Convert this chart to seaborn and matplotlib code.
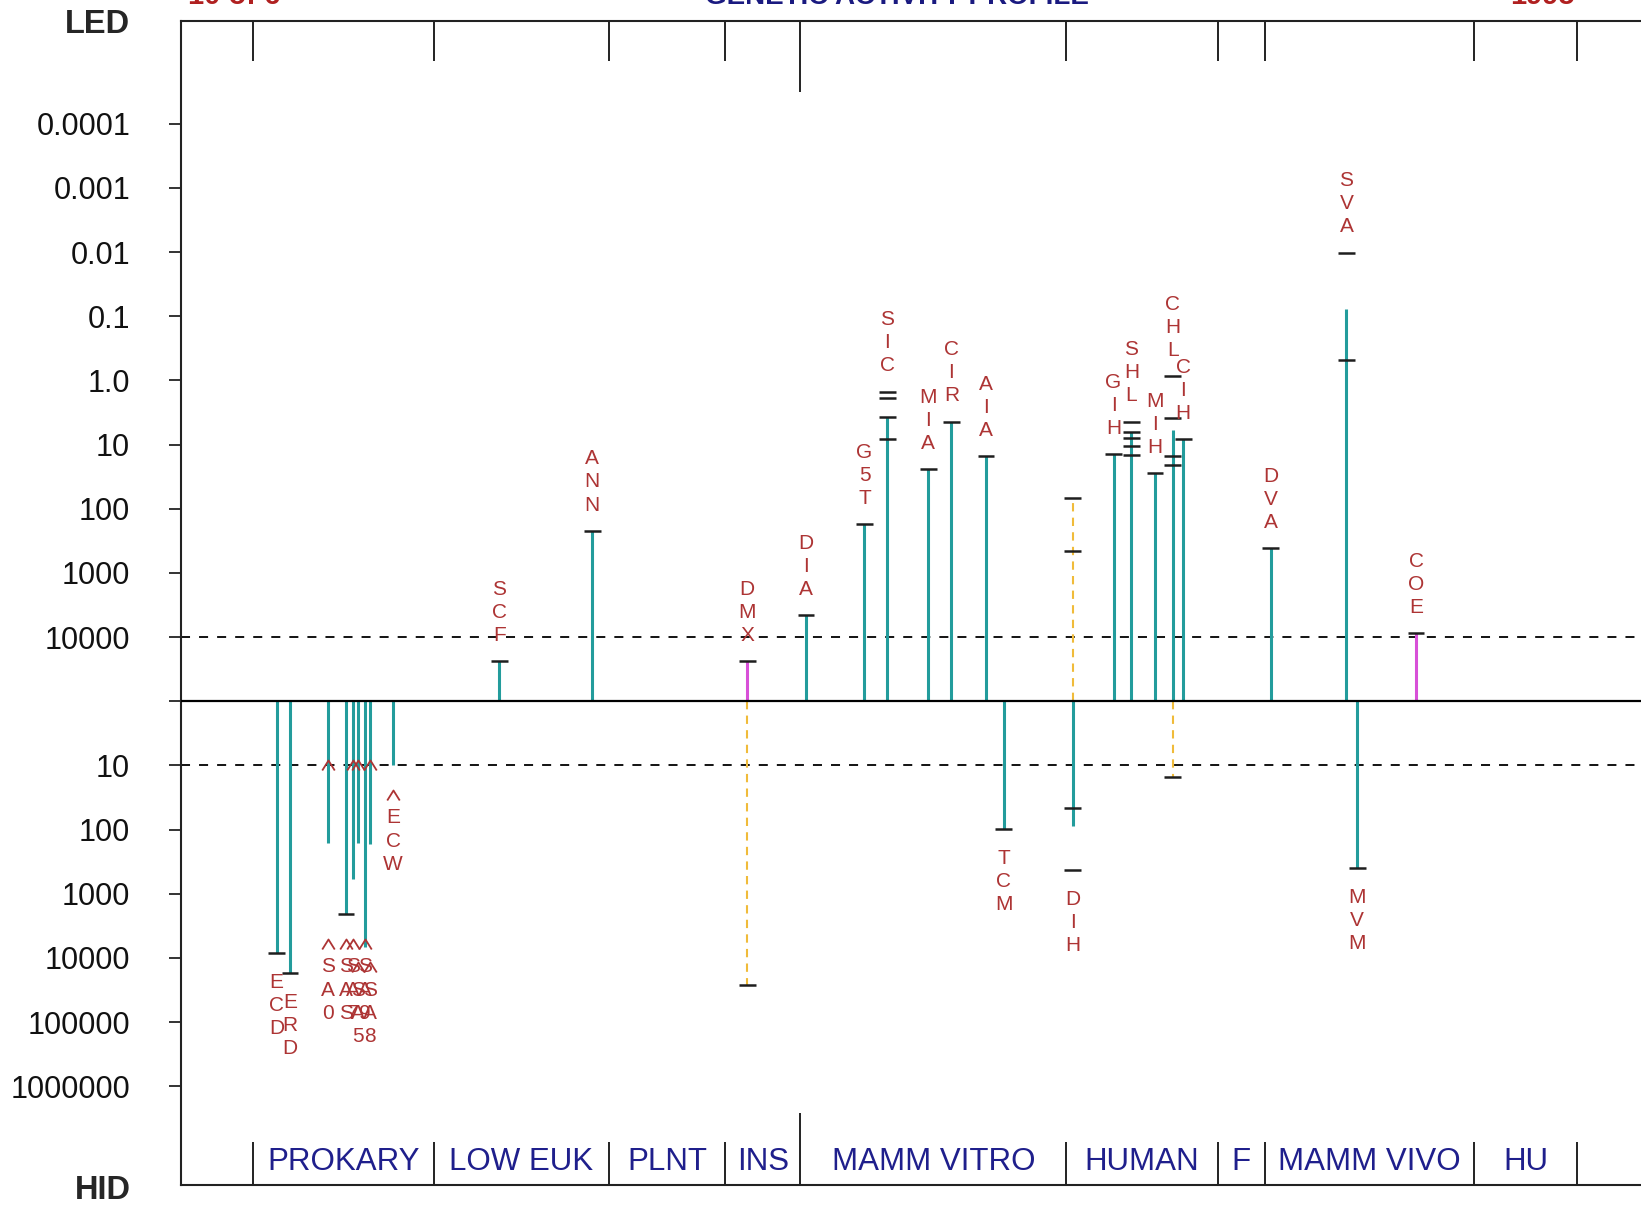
import numpy as np
import pandas as pd
import matplotlib
matplotlib.use("Agg")
import matplotlib.pyplot as plt
from matplotlib.path import Path
import seaborn as sns

sns.set_style("ticks")
plt.rcParams["font.family"] = ["Liberation Sans", "DejaVu Sans"]

# ---------------- data ----------------
tests = ["ECD", "ERD", "SA0", "SAS", "SA7", "SA5", "SA9", "SA8", "ECW",
         "SCF", "ANN", "DMX", "DIA", "G5T", "SIC", "MIA", "CIR", "AIA", "TCM",
         "DIH", "GIH", "SHL", "MIH", "CHL", "CIH", "DVA", "SVA", "MVM", "COE"]
labels = ["ECD", "ERD", "^SA0", "^SAS", "^SA7", "^SA5", "^SA9", "^SA8", "^ECW",
          "SCF", "ANN", "DMX", "DIA", "G5T", "SIC", "MIA", "CIR", "AIA", "TCM",
          "DIH", "GIH", "SHL", "MIH", "CHL", "CIH", "DVA", "SVA", "MVM", "COE"]
# column position of each test along the phylogenetic axis
xpos = [9.17, 10.44, 14.12, 15.82, 16.46, 17.00, 17.63, 18.12, 20.35,
        30.51, 39.44, 54.30, 59.92, 65.54, 67.74, 71.66, 73.87, 77.18, 78.88,
        85.51, 89.42, 91.13, 93.40, 95.09, 96.11, 104.48, 111.75, 112.80, 118.43]
# lowest effective dose (positive results) and highest ineffective dose (negative results)
led = [None, None, None, None, None, None, None, None, None,
       24000, 220, 24000, 4500, 175, 3.7, 24, 4.4, 15, None,
       68, 14, 6.3, 28, 5.9, 8.3, 410, 0.078, None, 8700]
hid = [8300, 17000, 160, 2100, 580, 160, 6800, 170, 10,
       None, None, 26000, None, None, None, None, None, None, 98,
       89, None, None, None, 15, None, None, None, 400, None]
led_kind = {"DMX": "magenta", "COE": "magenta", "DIH": "yellow"}
hid_kind = {"DMX": "yellow", "CHL": "yellow"}
led_nocap = ["SVA", "CHL"]
hid_nocap = ["SA0", "SA7", "SA5", "SA9", "SA8", "ECW", "DIH"]
led_extra = {"SIC": [8.3, 1.9, 1.5], "SHL": [4.4, 7.9, 10.7, 14.8],
             "CHL": [0.87, 3.9, 15, 21], "DIH": [460], "SVA": [0.49, 0.0102]}
hid_extra = {"DIH": [46, 430]}
label_anchor = {"SA0": 2100, "SAS": 2100, "SA7": 2100, "SA9": 2100,
                "SA5": 4800, "SA8": 4800}
caret_tests = ["SA0", "SA7", "SA5", "SA8"]

groups = ["PROKARY", "LOW EUK", "PLNT", "INS", "MAMM VITRO", "HUMAN", "F",
          "MAMM VIVO", "HU"]
group_edges = [6.9, 24.3, 41.0, 52.2, 59.4, 84.9, 99.4, 103.9, 124.0, 133.9]
vitro_vivo_edge = 59.4

led_tick_vals = [0.0001, 0.001, 0.01, 0.1, 1.0, 10, 100, 1000, 10000]
led_tick_text = ["0.0001", "0.001", "0.01", "0.1", "1.0", "10", "100", "1000", "10000"]
hid_tick_vals = [10, 100, 1000, 10000, 100000, 1000000]
hid_tick_text = ["10", "100", "1000", "10000", "100000", "1000000"]


def up(d):
    return 5 - np.log10(d)


def down(d):
    return -np.log10(d)


colors = {"teal": "#239c9c", "magenta": "#d850d8", "yellow": "#f0bb3a"}
label_color = "#ad3434"
cap_color = "#1e1e1e"

df = pd.DataFrame({"test": tests, "label": labels, "x": xpos, "led": led, "hid": hid})

# open chevron used for the "^" signs
chevron = Path([(-1, -0.8), (0, 0.8), (1, -0.8)],
               [Path.MOVETO, Path.LINETO, Path.LINETO])

# ---------------- figure ----------------
fig = plt.figure(figsize=(16.41, 12.05), dpi=100)
ax = fig.add_axes([0.1103, 0.0165, 0.8897, 0.9661])
ax.set_xlim(0, 140)
ax.set_ylim(-7.54, 10.60)

ax.axhline(1, color="black", lw=1.3, ls=(0, (5, 5)), zorder=1)
ax.axhline(-1, color="black", lw=1.3, ls=(0, (5, 5)), zorder=1)
ax.axhline(0, color="black", lw=1.6, zorder=3)

cap_w = 0.8
step = 0.359


def put_char(x, y, ch):
    if ch == "^":
        ax.plot([x], [y], marker=chevron, ms=9, mfc="none", mec=label_color,
                mew=1.3, ls="none", zorder=5)
    else:
        ax.text(x, y, ch, ha="center", va="center", fontsize=15,
                color=label_color, zorder=5)


for _, r in df.iterrows():
    x = r["x"]
    t = r["test"]
    top_ext = None
    bot_ext = None
    if pd.notna(r["led"]):
        y = up(r["led"])
        kind = led_kind.get(t, "teal")
        if kind == "yellow":
            ax.vlines(x, 0, y, color=colors[kind], lw=1.5, ls=(0, (4, 3)), zorder=2)
        else:
            ax.vlines(x, 0, y, color=colors[kind], lw=2.2, zorder=2)
        if t not in led_nocap:
            ax.hlines(y, x - cap_w, x + cap_w, color=cap_color, lw=1.8, zorder=4)
        ext = [y] + [up(v) for v in led_extra.get(t, [])]
        for v in led_extra.get(t, []):
            ax.hlines(up(v), x - cap_w, x + cap_w, color=cap_color, lw=1.8, zorder=4)
        top_ext = max(ext)
    if pd.notna(r["hid"]):
        y = down(r["hid"])
        kind = hid_kind.get(t, "teal")
        if kind == "yellow":
            ax.vlines(x, 0, y, color=colors[kind], lw=1.5, ls=(0, (4, 3)), zorder=2)
        else:
            ax.vlines(x, 0, y, color=colors[kind], lw=2.2, zorder=2)
        if t not in hid_nocap:
            ax.hlines(y, x - cap_w, x + cap_w, color=cap_color, lw=1.8, zorder=4)
        ext = [y] + [down(v) for v in hid_extra.get(t, [])]
        for v in hid_extra.get(t, []):
            ax.hlines(down(v), x - cap_w, x + cap_w, color=cap_color, lw=1.8, zorder=4)
        bot_ext = min(ext)

    # label goes on the side of the solid bar
    lab = r["label"]
    if top_ext is not None and led_kind.get(t, "teal") != "yellow":
        y0 = top_ext + 0.40
        n = len(lab)
        for i, ch in enumerate(lab):
            put_char(x, y0 + (n - 1 - i) * step, ch)
    else:
        if t in label_anchor:
            bot_ext = down(label_anchor[t])
        y0 = bot_ext - 0.46
        for i, ch in enumerate(lab):
            put_char(x, y0 - i * step, ch)

for t in caret_tests:
    x = df.loc[df["test"] == t, "x"].iloc[0]
    put_char(x, -1.0, "^")

# phylogenetic group separators and names
for e in group_edges:
    top_len = 1.11 if e == vitro_vivo_edge else 0.62
    bot_len = 1.13 if e == vitro_vivo_edge else 0.67
    ax.vlines(e, 10.60 - top_len, 10.60, color="#222222", lw=1.4, zorder=3)
    ax.vlines(e, -7.54, -7.54 + bot_len, color="#222222", lw=1.4, zorder=3)
for name, a, b in zip(groups, group_edges[:-1], group_edges[1:]):
    ax.text((a + b) / 2, -7.18, name, ha="center", va="center",
            fontsize=22.5, color="#1f1f8c")

# axes styling
sns.despine(ax=ax, top=False, right=True)
for s in ["left", "bottom", "top"]:
    ax.spines[s].set_linewidth(1.5)
    ax.spines[s].set_color("#222222")
ax.set_xticks([])
yt = [up(v) for v in led_tick_vals] + [0] + [down(v) for v in hid_tick_vals]
ax.set_yticks(yt)
ax.set_yticklabels(led_tick_text + [""] + hid_tick_text)
ax.tick_params(axis="y", direction="out", length=8.6, width=1.2, pad=28,
               labelsize=22, colors="#111111")

fig.text(93 / 1568, 1 - 23 / 1151, "LED", ha="center", va="center",
         fontsize=23.5, fontweight="bold")
fig.text(98 / 1568, 1 - 1137 / 1151, "HID", ha="center", va="center",
         fontsize=23.5, fontweight="bold")

# title row, cut off at the top edge of the image
fig.text(180 / 1568, 1 - 4 / 1205, "10 of 6", ha="left", va="baseline",
         fontsize=21, fontweight="bold", color="#b02020")
fig.text(857 / 1568, 1 - 4 / 1205, "GENETIC ACTIVITY PROFILE", ha="center",
         va="baseline", fontsize=20, fontweight="bold", color="#1a1a80")
fig.text(1505 / 1568, 1 - 4 / 1205, "1995", ha="right", va="baseline",
         fontsize=21, fontweight="bold", color="#b02020")

fig.savefig("out.png", dpi=100)
